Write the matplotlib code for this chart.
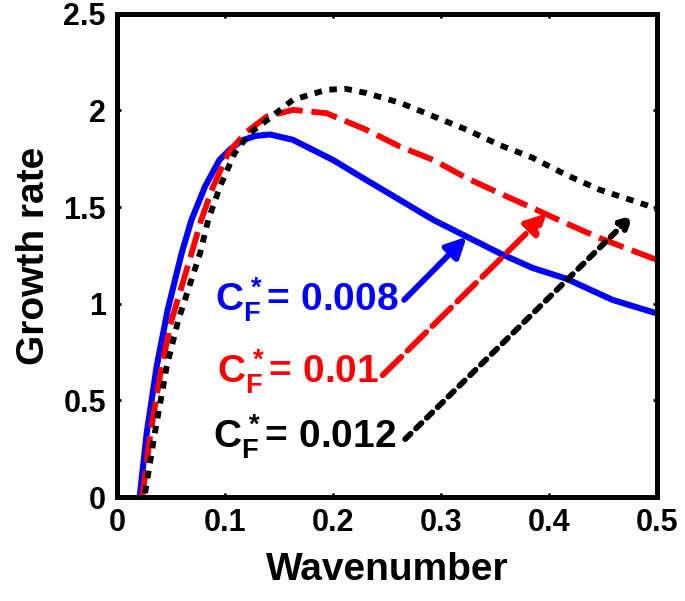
import numpy as np
import matplotlib.pyplot as plt

plt.rcParams['font.family'] = ['Liberation Sans', 'DejaVu Sans']
plt.rcParams['font.weight'] = 'bold'
plt.rcParams['mathtext.fontset'] = 'custom'
plt.rcParams['mathtext.rm'] = 'Liberation Sans:bold'
plt.rcParams['mathtext.it'] = 'Liberation Sans:bold'
plt.rcParams['mathtext.bf'] = 'Liberation Sans:bold'

# growth rate curves
k_blue = [0.021, 0.0275, 0.0367, 0.047, 0.0598, 0.069, 0.0815, 0.095, 0.105, 0.116,
          0.128, 0.1417, 0.163, 0.2, 0.231, 0.262, 0.293, 0.324, 0.355, 0.385,
          0.416, 0.459, 0.5]
g_blue = [0.0, 0.33, 0.674, 0.97, 1.26, 1.434, 1.606, 1.745, 1.80, 1.845,
          1.868, 1.876, 1.848, 1.744, 1.64, 1.537, 1.434, 1.347, 1.26, 1.185,
          1.13, 1.02, 0.95]

k_red = [0.0235, 0.031, 0.0413, 0.0506, 0.069, 0.078, 0.089, 0.103, 0.1185, 0.1386,
         0.163, 0.194, 0.231, 0.262, 0.293, 0.324, 0.355, 0.385, 0.416, 0.447,
         0.5]
g_red = [0.0, 0.33, 0.674, 0.916, 1.26, 1.434, 1.606, 1.779, 1.882, 1.968,
         2.003, 1.986, 1.9, 1.813, 1.744, 1.65, 1.57, 1.495, 1.416, 1.34,
         1.227]

k_black = [0.026, 0.035, 0.046, 0.0568, 0.0769, 0.0845, 0.0954, 0.109, 0.123, 0.139,
           0.163, 0.194, 0.212, 0.231, 0.262, 0.293, 0.324, 0.355, 0.385, 0.416,
           0.447, 0.496, 0.5]
g_black = [0.02, 0.33, 0.674, 0.916, 1.26, 1.434, 1.606, 1.779, 1.882, 1.95,
           2.055, 2.107, 2.112, 2.09, 2.04, 1.97, 1.90, 1.82, 1.755, 1.667,
           1.59, 1.50, 1.49]

# labels: text position, arrow tail, arrow head
labels = ['0.008', '0.01', '0.012']
colors = ['#0000ff', '#ff0000', '#000000']
styles = ['-', (0, (4.5, 1.5)), (0, (1.3, 1.3))]
text_xy = [(0.091, 0.96), (0.093, 0.59), (0.089, 0.25)]
tail_xy = [(0.266, 1.02), (0.246, 0.63), (0.267, 0.30)]
head_xy = [(0.324, 1.347), (0.398, 1.468), (0.478, 1.46)]
head_size = [30, 30, 18]

fig = plt.figure(figsize=(6.85, 6.01), dpi=100)
ax = fig.add_axes([0.1708, 0.173, 0.788, 0.804])

ax.plot(k_blue, g_blue, color=colors[0], lw=4.4, linestyle=styles[0])
ax.plot(k_red, g_red, color=colors[1], lw=4.2, linestyle=styles[1])
ax.plot(k_black, g_black, color=colors[2], lw=4.2, linestyle=styles[2])

for lab, c, ls, txy, t, h, hs in zip(labels, colors, styles, text_xy, tail_xy, head_xy, head_size):
    ax.text(txy[0], txy[1], r'$C_F^*$= ' + lab, color=c, fontsize=28,
            fontweight='bold', ha='left', va='baseline')
    ax.annotate('', xy=h, xytext=t,
                arrowprops=dict(arrowstyle='-|>', color=c, lw=4.2, linestyle=ls,
                                mutation_scale=hs, shrinkA=0, shrinkB=0))

ax.set_xlim(0, 0.5)
ax.set_ylim(0, 2.5)
ax.set_xticks([0, 0.1, 0.2, 0.3, 0.4, 0.5])
ax.set_xticklabels(['0', '0.1', '0.2', '0.3', '0.4', '0.5'])
ax.set_yticks([0, 0.5, 1, 1.5, 2, 2.5])
ax.set_yticklabels(['0', '0.5', '1', '1.5', '2', '2.5'])
ax.tick_params(direction='in', length=3, width=2, top=True, right=True,
               labelsize=22, pad=8)
for lab in ax.get_xticklabels() + ax.get_yticklabels():
    lab.set_fontweight('bold')
for s in ax.spines.values():
    s.set_linewidth(3.6)

ax.set_xlabel('Wavenumber', fontsize=28, fontweight='bold', labelpad=10)
ax.set_ylabel('Growth rate', fontsize=28, fontweight='bold', labelpad=8)

fig.savefig('out.png', dpi=100)
